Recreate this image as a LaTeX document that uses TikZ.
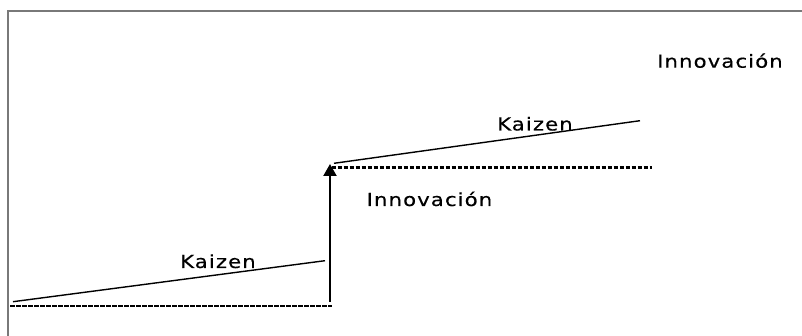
\documentclass[tikz,border=0pt]{standalone}
\usepackage{fontspec}
\setmainfont{DejaVu Sans}[FakeStretch=1.18,LetterSpace=6,FakeBold=0.4]
\usetikzlibrary{arrows.meta}
\begin{document}
\begin{tikzpicture}[x=1pt,y=-1pt,
  frameline/.style={draw=gray!95!black,line width=1.6pt},
  trend/.style={draw=black,line width=1.4pt},
  level/.style={draw=black,line width=2.6pt,dash pattern=on 4.5pt off 1.5pt},
  jump/.style={draw=black,line width=2.2pt,-{Triangle[width=13pt,length=12pt]}},
  lbl/.style={inner sep=0pt,anchor=base west,font=\fontsize{18}{20}\selectfont}]
\useasboundingbox (0,0) rectangle (802,336);
% outer frame (only top and left edges fall inside the page)
\draw[frameline] (8,337) -- (8,11) -- (803,11);
% reference points
\coordinate (low0) at (10,306);
\coordinate (low1) at (331.5,306);
\coordinate (k1a) at (13,301.7);
\coordinate (k1b) at (325,260.7);
\coordinate (jb) at (330,302);
\coordinate (jt) at (330,164);
\coordinate (high0) at (331.5,167.7);
\coordinate (high1) at (652,167.7);
\coordinate (k2a) at (334,163.3);
\coordinate (k2b) at (640,120.7);
% levels
\draw[level] (low0) -- (low1);
\draw[level] (high0) -- (high1);
% gradual improvement
\draw[trend] (k1a) -- (k1b);
\draw[trend] (k2a) -- (k2b);
% step change
\draw[jump] (jb) -- (jt);
% labels
\node[lbl] (kz1) at (180,268) {Kaizen};
\node[lbl] (kz2) at (497,130.5) {Kaizen};
\node[lbl] (in1) at (366.5,206) {Innovación};
\node[lbl] (in2) at (657,67.7) {Innovación};
\end{tikzpicture}
\end{document}
